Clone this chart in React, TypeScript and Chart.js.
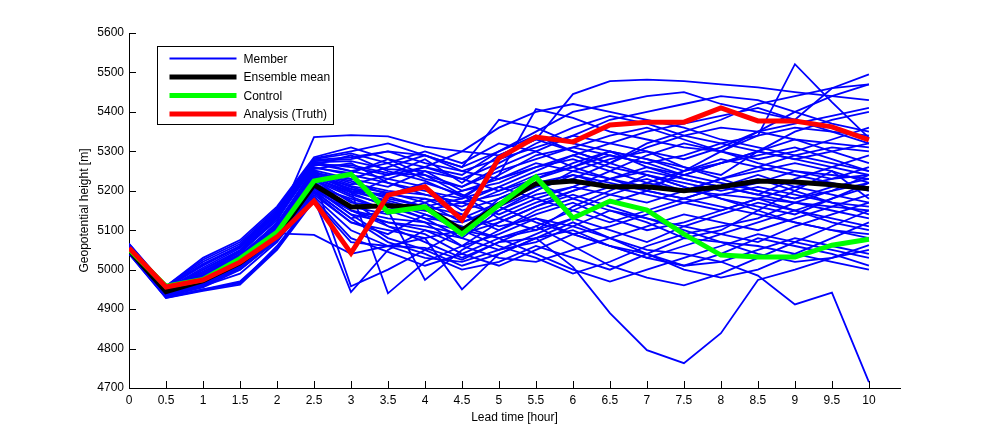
import React, { useEffect, useRef } from "react";
import { Chart, registerables } from "chart.js";

Chart.register(...registerables);

const leadTimes = [0, 0.5, 1, 1.5, 2, 2.5, 3, 3.5, 4, 4.5, 5, 5.5, 6, 6.5, 7, 7.5, 8, 8.5, 9, 9.5, 10];

const ensembleMean = [5050, 4944, 4972, 5017, 5086, 5215, 5159, 5162, 5158, 5100, 5165, 5218, 5225, 5210, 5210, 5200, 5210, 5225, 5222, 5215, 5205];
const control = [5052, 4958, 4975, 5028, 5095, 5225, 5242, 5146, 5159, 5090, 5164, 5235, 5131, 5174, 5151, 5090, 5037, 5032, 5032, 5062, 5077];
const analysis = [5055, 4956, 4974, 5019, 5083, 5174, 5042, 5189, 5210, 5126, 5283, 5336, 5324, 5367, 5374, 5374, 5410, 5377, 5377, 5362, 5329];

const memberValues: number[][] = [
  [5055, 4940, 4975, 5030, 5120, 5336, 5341, 5338, 5312, 5300, 5290, 5330, 5445, 5478, 5482, 5478, 5470, 5462, 5450, 5440, 5430],
  [5062, 4952, 4992, 5045, 5135, 5265, 5290, 5250, 5225, 5185, 5240, 5407, 5385, 5350, 5330, 5310, 5300, 5340, 5521, 5425, 5334],
  [5048, 4936, 4962, 5012, 5092, 5088, 5040, 5060, 5055, 5025, 5070, 5080, 5007, 4890, 4796, 4763, 4839, 4974, 5000, 5030, 5062],
  [5052, 4945, 4970, 5020, 5100, 5200, 5150, 5120, 5100, 5060, 5090, 5130, 5110, 5080, 5050, 5040, 5020, 4985, 4912, 4942, 4715],
  [5045, 4930, 4950, 4965, 5060, 5180, 4943, 5050, 5100, 5080, 5150, 5200, 5250, 5280, 5300, 5260, 5230, 5200, 5180, 5210, 5230],
  [5058, 4948, 4985, 5035, 5110, 5230, 4958, 5000, 5050, 5100, 5180, 5220, 5180, 5150, 5120, 5080, 5100, 5150, 5200, 5250, 5180],
  [5050, 4942, 4970, 5015, 5090, 5250, 5200, 4940, 5020, 5060, 5120, 5160, 5200, 5230, 5260, 5240, 5270, 5300, 5280, 5260, 5240],
  [5053, 4944, 4965, 5000, 5075, 5210, 5180, 5150, 4974, 5050, 5100, 5150, 5180, 5210, 5230, 5200, 5190, 5180, 5170, 5160, 5150],
  [5047, 4938, 4958, 4990, 5070, 5190, 5120, 5100, 5080, 4950, 5040, 5080, 5100, 5060, 5030, 5010, 5040, 5080, 5060, 5040, 5010],
  [5066, 4958, 5030, 5075, 5160, 5285, 5310, 5280, 5260, 5240, 5300, 5350, 5400, 5420, 5440, 5450, 5420, 5400, 5380, 5460, 5495],
  [5060, 4955, 5010, 5060, 5150, 5275, 5280, 5300, 5290, 5260, 5380, 5360, 5320, 5300, 5280, 5260, 5240, 5300, 5350, 5380, 5400],
  [5057, 4950, 5000, 5050, 5140, 5270, 5260, 5240, 5280, 5220, 5290, 5330, 5300, 5270, 5320, 5350, 5380, 5420, 5440, 5460, 5470],
  [5055, 4947, 4990, 5040, 5130, 5260, 5240, 5220, 5200, 5180, 5240, 5290, 5310, 5340, 5360, 5330, 5300, 5270, 5250, 5230, 5260],
  [5052, 4943, 4980, 5030, 5115, 5245, 5230, 5210, 5250, 5200, 5220, 5260, 5280, 5250, 5220, 5200, 5230, 5260, 5290, 5310, 5300],
  [5050, 4940, 4975, 5025, 5105, 5240, 5200, 5190, 5180, 5160, 5200, 5240, 5260, 5300, 5280, 5250, 5270, 5290, 5310, 5280, 5250],
  [5049, 4939, 4972, 5020, 5100, 5235, 5190, 5230, 5210, 5150, 5180, 5220, 5240, 5210, 5190, 5170, 5150, 5180, 5210, 5230, 5240],
  [5048, 4937, 4968, 5018, 5095, 5228, 5170, 5160, 5150, 5130, 5170, 5210, 5230, 5270, 5310, 5340, 5360, 5350, 5330, 5320, 5310],
  [5047, 4936, 4965, 5015, 5090, 5222, 5160, 5140, 5170, 5120, 5150, 5190, 5210, 5190, 5170, 5200, 5230, 5250, 5270, 5250, 5220],
  [5046, 4935, 4962, 5010, 5085, 5215, 5150, 5130, 5120, 5100, 5130, 5170, 5200, 5230, 5250, 5230, 5210, 5190, 5170, 5150, 5130],
  [5045, 4934, 4960, 5008, 5080, 5208, 5140, 5120, 5110, 5090, 5120, 5160, 5190, 5160, 5130, 5110, 5090, 5070, 5110, 5140, 5170],
  [5044, 4933, 4958, 5005, 5078, 5200, 5130, 5150, 5180, 5140, 5100, 5140, 5170, 5130, 5100, 5120, 5150, 5180, 5150, 5120, 5100],
  [5043, 4932, 4955, 5000, 5075, 5195, 5120, 5090, 5140, 5110, 5080, 5110, 5150, 5190, 5220, 5250, 5280, 5260, 5240, 5220, 5200],
  [5058, 4948, 4985, 5035, 5110, 5255, 5270, 5220, 5190, 5170, 5210, 5250, 5290, 5320, 5350, 5370, 5390, 5410, 5380, 5350, 5320],
  [5061, 4952, 4995, 5045, 5125, 5268, 5250, 5270, 5230, 5210, 5260, 5300, 5340, 5380, 5400, 5420, 5440, 5430, 5400, 5370, 5350],
  [5054, 4945, 4982, 5032, 5112, 5248, 5220, 5200, 5190, 5170, 5140, 5180, 5210, 5250, 5290, 5320, 5300, 5280, 5300, 5330, 5360],
  [5051, 4942, 4977, 5027, 5105, 5242, 5210, 5180, 5160, 5140, 5110, 5130, 5090, 5060, 5030, 5060, 5090, 5120, 5150, 5180, 5210],
  [5050, 4941, 4975, 5025, 5102, 5238, 5205, 5170, 5140, 5100, 5080, 5100, 5130, 5170, 5200, 5180, 5160, 5140, 5120, 5100, 5080],
  [5049, 4940, 4973, 5022, 5100, 5232, 5195, 5160, 5130, 5080, 5050, 5070, 5110, 5150, 5130, 5100, 5070, 5040, 5020, 5030, 5050],
  [5048, 4939, 4970, 5020, 5098, 5226, 5185, 5150, 5120, 5060, 5030, 5020, 5050, 5080, 5110, 5140, 5120, 5100, 5130, 5160, 5190],
  [5047, 4938, 4968, 5017, 5094, 5220, 5175, 5110, 5090, 5040, 5010, 5050, 5090, 5060, 5040, 5000, 4980, 5000, 5040, 5080, 5120],
  [5053, 4944, 4978, 5028, 5108, 5246, 5215, 5240, 5260, 5230, 5200, 5230, 5270, 5300, 5260, 5230, 5210, 5190, 5230, 5260, 5290],
  [5056, 4947, 4987, 5037, 5118, 5252, 5230, 5260, 5290, 5250, 5230, 5270, 5250, 5230, 5210, 5240, 5270, 5300, 5330, 5300, 5270],
  [5054, 4945, 4983, 5033, 5112, 5244, 5225, 5190, 5220, 5190, 5160, 5200, 5240, 5220, 5200, 5180, 5210, 5240, 5210, 5190, 5170],
  [5052, 4943, 4979, 5029, 5107, 5240, 5212, 5195, 5170, 5200, 5230, 5260, 5290, 5260, 5240, 5220, 5200, 5220, 5250, 5240, 5230],
  [5051, 4942, 4976, 5026, 5104, 5236, 5205, 5185, 5160, 5180, 5210, 5180, 5150, 5120, 5150, 5180, 5210, 5230, 5200, 5170, 5140],
  [5050, 4941, 4974, 5024, 5101, 5232, 5198, 5175, 5150, 5170, 5190, 5230, 5260, 5290, 5270, 5240, 5220, 5200, 5180, 5200, 5220],
  [5049, 4940, 4971, 5021, 5098, 5228, 5190, 5165, 5130, 5120, 5160, 5120, 5090, 5110, 5140, 5170, 5190, 5210, 5190, 5170, 5160],
  [5046, 4937, 4964, 5012, 5088, 5210, 5150, 5110, 5070, 5030, 5070, 5110, 5060, 5010, 4980, 4960, 4990, 5030, 5070, 5110, 5150],
  [5045, 4936, 4961, 5009, 5084, 5205, 5140, 5080, 5050, 5010, 5040, 5080, 5120, 5080, 5040, 5010, 5020, 5050, 5080, 5060, 5040],
  [5044, 4935, 4959, 5006, 5080, 5198, 5130, 5070, 5040, 5000, 5020, 5060, 5030, 5000, 5040, 5080, 5070, 5060, 5040, 5020, 5000],
  [5064, 4956, 5020, 5065, 5150, 5280, 5295, 5270, 5300, 5270, 5320, 5300, 5260, 5230, 5200, 5250, 5300, 5350, 5400, 5440, 5470],
  [5063, 4955, 5015, 5060, 5145, 5278, 5285, 5300, 5270, 5250, 5280, 5310, 5340, 5320, 5300, 5280, 5310, 5350, 5370, 5390, 5410],
  [5059, 4950, 5005, 5055, 5138, 5272, 5275, 5255, 5250, 5230, 5270, 5320, 5360, 5390, 5370, 5340, 5320, 5300, 5280, 5300, 5320],
  [5057, 4949, 5000, 5048, 5132, 5265, 5265, 5245, 5240, 5210, 5250, 5280, 5310, 5290, 5270, 5290, 5320, 5340, 5360, 5350, 5340],
  [5042, 4930, 4950, 4970, 5055, 5185, 5100, 5060, 5030, 5020, 5050, 5090, 5130, 5100, 5070, 5110, 5140, 5170, 5150, 5130, 5110],
  [5041, 4929, 4948, 4968, 5052, 5180, 5080, 5045, 5010, 5040, 5080, 5040, 5000, 4970, 5000, 5030, 5060, 5090, 5070, 5050, 5030],
  [5040, 4928, 4946, 4962, 5050, 5175, 5070, 5060, 5080, 5100, 5060, 5030, 4990, 5020, 5060, 5090, 5110, 5130, 5170, 5200, 5240],
  [5065, 4958, 5025, 5070, 5155, 5282, 5300, 5320, 5290, 5260, 5300, 5340, 5300, 5270, 5240, 5210, 5180, 5160, 5140, 5180, 5220],
  [5062, 4953, 5012, 5058, 5142, 5274, 5250, 5230, 5260, 5300, 5360, 5400, 5420, 5400, 5380, 5360, 5330, 5310, 5290, 5270, 5250],
  [5055, 4946, 4985, 5036, 5116, 5258, 5245, 5280, 5240, 5190, 5130, 5100, 5160, 5200, 5240, 5210, 5180, 5150, 5120, 5100, 5090],
];

const legendLabels = ["Member", "Ensemble mean", "Control", "Analysis (Truth)"];
const xTitle = "Lead time [hour]";
const yTitle = "Geopotential height [m]";

const FONT = "'Liberation Sans', Arial, Helvetica, sans-serif";

const toPoints = (vals: number[]) => vals.map((v, i) => ({ x: leadTimes[i], y: v }));

const inwardTicks = {
  id: "inwardTicks",
  afterDraw(chart: any) {
    const { ctx, chartArea } = chart;
    const xs = chart.scales.x;
    const ys = chart.scales.y;
    ctx.save();
    ctx.strokeStyle = "#000";
    ctx.lineWidth = 1;
    ctx.beginPath();
    xs.ticks.forEach((t: any) => {
      const px = Math.round(xs.getPixelForValue(t.value)) + 0.5;
      ctx.moveTo(px, chartArea.bottom);
      ctx.lineTo(px, chartArea.bottom - 7);
    });
    ys.ticks.forEach((t: any) => {
      const py = Math.round(ys.getPixelForValue(t.value)) + 0.5;
      ctx.moveTo(chartArea.left, py);
      ctx.lineTo(chartArea.left + 7, py);
    });
    ctx.stroke();
    ctx.restore();
  },
};

const boxLegend = {
  id: "boxLegend",
  afterDraw(chart: any) {
    const { ctx, chartArea } = chart;
    const left = chartArea.left + 28.5;
    const top = chartArea.top + 13.5;
    const w = 176;
    const h = 78;
    ctx.save();
    ctx.fillStyle = "#fff";
    ctx.fillRect(left, top, w, h);
    ctx.strokeStyle = "#000";
    ctx.lineWidth = 1;
    ctx.strokeRect(left, top, w, h);
    const styles = [
      { color: "#0000ff", width: 2 },
      { color: "#000000", width: 5 },
      { color: "#00ff00", width: 5 },
      { color: "#ff0000", width: 5 },
    ];
    ctx.font = `12px ${FONT}`;
    ctx.textBaseline = "middle";
    ctx.textAlign = "left";
    legendLabels.forEach((label, i) => {
      const y = top + 12 + i * 18.5;
      ctx.beginPath();
      ctx.strokeStyle = styles[i].color;
      ctx.lineWidth = styles[i].width;
      ctx.moveTo(left + 12, y);
      ctx.lineTo(left + 79, y);
      ctx.stroke();
      ctx.fillStyle = "#000";
      ctx.fillText(label, left + 86, y + 1);
    });
    ctx.restore();
  },
};

export default function App() {
  const ref = useRef<HTMLCanvasElement | null>(null);
  useEffect(() => {
    document.body.style.margin = "0";
    if (!ref.current) return;
    const datasets: any[] = memberValues.map((vals, i) => ({
      label: i === 0 ? legendLabels[0] : `Member ${i + 1}`,
      data: toPoints(vals),
      borderColor: "#0000ff",
      borderWidth: 1.8,
      pointRadius: 0,
      tension: 0,
      order: 10,
    }));
    datasets.push({
      label: legendLabels[1],
      data: toPoints(ensembleMean),
      borderColor: "#000000",
      borderWidth: 5,
      pointRadius: 0,
      tension: 0,
      order: 3,
    });
    datasets.push({
      label: legendLabels[2],
      data: toPoints(control),
      borderColor: "#00ff00",
      borderWidth: 5,
      pointRadius: 0,
      tension: 0,
      order: 2,
    });
    datasets.push({
      label: legendLabels[3],
      data: toPoints(analysis),
      borderColor: "#ff0000",
      borderWidth: 5,
      pointRadius: 0,
      tension: 0,
      order: 1,
    });

    const chart = new Chart(ref.current, {
      type: "line",
      data: { datasets },
      plugins: [inwardTicks, boxLegend],
      options: {
        animation: false,
        responsive: true,
        maintainAspectRatio: false,
        layout: { padding: { left: 73, right: 95, top: 33, bottom: 8 } },
        plugins: { legend: { display: false }, tooltip: { enabled: false } },
        elements: { line: { borderCapStyle: "butt", borderJoinStyle: "miter" } },
        scales: {
          x: {
            type: "linear",
            min: 0,
            max: 10.42,
            grid: { display: false, drawTicks: false },
            border: { display: true, color: "#000", width: 1 },
            ticks: {
              stepSize: 0.5,
              padding: 5,
              maxRotation: 0,
              autoSkip: false,
              color: "#000",
              font: { family: FONT, size: 12 },
              callback: (v: any) => String(v),
            },
            afterBuildTicks: (s: any) => {
              s.ticks = leadTimes.map((v) => ({ value: v }));
            },
            afterFit: (s: any) => {
              s.height = 41;
            },
            title: {
              display: true,
              text: xTitle,
              color: "#000",
              font: { family: FONT, size: 12 },
              padding: { top: 0, bottom: 4 },
            },
          },
          y: {
            type: "linear",
            min: 4700,
            max: 5600,
            grid: { display: false, drawTicks: false },
            border: { display: true, color: "#000", width: 1 },
            ticks: {
              stepSize: 100,
              padding: 5,
              color: "#000",
              font: { family: FONT, size: 12 },
              callback: (v: any) => String(v),
            },
            afterFit: (s: any) => {
              s.width = 56;
            },
            title: {
              display: true,
              text: yTitle,
              color: "#000",
              font: { family: FONT, size: 12 },
              padding: { top: 4, bottom: 0 },
            },
          },
        },
      },
    });
    return () => chart.destroy();
  }, []);

  return (
    <div style={{ position: "absolute", left: 0, top: 0, width: 995, height: 437, background: "#fff" }}>
      <canvas ref={ref} />
    </div>
  );
}
